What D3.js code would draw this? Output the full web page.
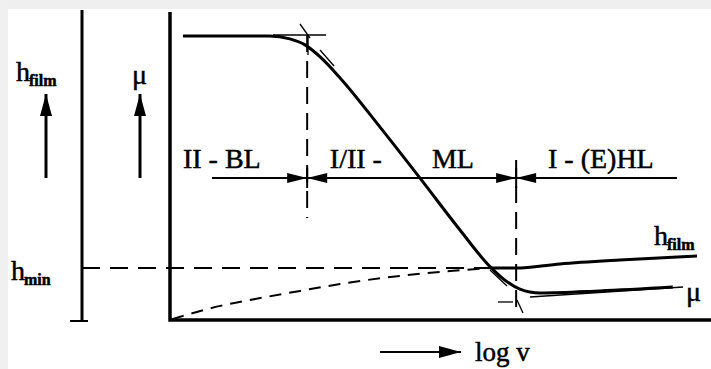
<!DOCTYPE html>
<meta charset="utf-8">
<script src="https://d3js.org/d3.v7.min.js"></script>
<style>
  body { margin: 0; background: #fff; }
  svg text { font-family: 'Liberation Serif', 'Times New Roman', serif; fill: #000; stroke: #000; stroke-width: 0.5px; }
</style>
<div id="chart"></div>
<script>

// ---- data ----
// friction coefficient mu vs log v (arbitrary units)
var muLogV = [0.24, 1.85, 2.22, 2.5, 2.78, 3.15, 3.89, 4.63, 5.37, 5.93, 6.2, 6.48, 6.85, 7.96, 9.31];
var muVals = [9.47, 9.47, 9.37, 9.17, 8.77, 8.07, 6.43, 4.73, 3.0, 1.77, 1.33, 1.03, 0.9, 0.97, 1.1];

// film thickness, below h_min (dashed) and above it (solid)
var hDashLogV = [0.04, 0.31, 0.93, 1.67, 2.41, 3.15, 4.26, 5.19, 5.93];
var hDashVals = [0.03, 0.17, 0.47, 0.73, 0.97, 1.2, 1.47, 1.63, 1.73];
var hSolidLogV = [5.93, 6.41, 7.22, 8.33, 9.76];
var hSolidVals = [1.73, 1.73, 1.87, 2.0, 2.13];

var hMin = 1.73;

// regime borders and labels
var borders = [2.54, 6.41];
var zoneNames = ["II - BL", "I/II -", "ML", "I - (E)HL"];
var zoneLabelX = [0.24, 2.96, 4.85, 7.0];

// ---- layout ----
var W = 711, H = 369;
var x = d3.scaleLinear().domain([0, 10]).range([170, 710]);
var y = d3.scaleLinear().domain([0, 10]).range([320, 20]);
var hAxisX = 82, zoneY = 178;

var svg = d3.select("#chart").append("svg")
  .attr("width", W).attr("height", H);

// faint grey smear at the top/left edge of the scan
svg.append("rect").attr("x", 0).attr("y", 0).attr("width", W).attr("height", 9).attr("fill", "#efefef");
svg.append("rect").attr("x", 0).attr("y", 0).attr("width", 8).attr("height", H).attr("fill", "#f0f0f0");

function arrow(x1, y1, x2, y2, len, half, sw) {
  svg.append("line")
    .attr("x1", x1).attr("y1", y1).attr("x2", x2).attr("y2", y2)
    .attr("stroke", "#000").attr("stroke-width", sw);
  var a = Math.atan2(y2 - y1, x2 - x1);
  var bx = x2 - len * Math.cos(a), by = y2 - len * Math.sin(a);
  var px = -Math.sin(a) * half, py = Math.cos(a) * half;
  svg.append("path")
    .attr("d", "M" + x2 + "," + y2 + "L" + (bx + px) + "," + (by + py) + "L" + (bx - px) + "," + (by - py) + "Z")
    .attr("fill", "#000");
}

// ---- axes ----
// h axis (left) with small foot
svg.append("line").attr("x1", hAxisX).attr("x2", hAxisX).attr("y1", 10).attr("y2", 322)
  .attr("stroke", "#000").attr("stroke-width", 3);
svg.append("line").attr("x1", 70).attr("x2", 88).attr("y1", 321).attr("y2", 321)
  .attr("stroke", "#000").attr("stroke-width", 2);

// mu axis + log v axis
svg.append("path")
  .attr("d", "M" + x(0) + ",12 L" + x(0) + "," + y(0) + " L" + W + "," + y(0))
  .attr("fill", "none").attr("stroke", "#000").attr("stroke-width", 3.5);

// ---- h_min dashed line ----
svg.append("line")
  .attr("x1", hAxisX).attr("x2", x(5.93))
  .attr("y1", y(hMin)).attr("y2", y(hMin))
  .attr("stroke", "#000").attr("stroke-width", 2).attr("stroke-dasharray", "18,10");

// ---- regime borders (dashed verticals) ----
var borderTop = [35, 160], borderBot = [218, 315];
borders.forEach(function(b, i) {
  svg.append("line")
    .attr("x1", x(b)).attr("x2", x(b))
    .attr("y1", borderTop[i]).attr("y2", borderBot[i])
    .attr("stroke", "#000").attr("stroke-width", 2).attr("stroke-dasharray", "17,9");
});

// ---- zone line with arrows ----
svg.append("line").attr("x1", 212).attr("x2", 677).attr("y1", zoneY).attr("y2", zoneY)
  .attr("stroke", "#000").attr("stroke-width", 2);
borders.forEach(function(b) {
  var bx = x(b);
  arrow(bx - 22, zoneY, bx, zoneY, 20, 5, 2);
  arrow(bx + 22, zoneY, bx, zoneY, 20, 5, 2);
  svg.append("line").attr("x1", bx).attr("x2", bx).attr("y1", zoneY - 10).attr("y2", zoneY + 10)
    .attr("stroke", "#000").attr("stroke-width", 2);
});

svg.selectAll(".zone")
  .data(zoneNames)
  .enter().append("text")
    .attr("class", "zone")
    .attr("x", function(d, i) { return x(zoneLabelX[i]); })
    .attr("y", 168)
    .style("font-size", "28px")
    .text(function(d) { return d; });

// ---- curves ----
var line = d3.line()
  .x(function(d) { return x(d[0]); })
  .y(function(d) { return y(d[1]); })
  .curve(d3.curveMonotoneX);

svg.append("path")
  .datum(d3.zip(hDashLogV, hDashVals))
  .attr("d", line)
  .attr("fill", "none").attr("stroke", "#000").attr("stroke-width", 2).attr("stroke-dasharray", "12,8");

svg.append("path")
  .datum(d3.zip(hSolidLogV, hSolidVals))
  .attr("d", line)
  .attr("fill", "none").attr("stroke", "#000").attr("stroke-width", 3);

svg.append("path")
  .datum(d3.zip(muLogV, muVals))
  .attr("d", line)
  .attr("fill", "none").attr("stroke", "#000").attr("stroke-width", 3);

// thin construction lines (tangents at the regime borders)
var constr = [
  [273, 35, 326, 35], [300, 24, 310, 38], [308, 35, 308, 55], [320, 50, 334, 66],
  [490, 270, 507, 286], [498, 302, 513, 302], [517, 300, 523, 313], [530, 297, 683, 287]
];
svg.selectAll(".constr")
  .data(constr)
  .enter().append("line")
    .attr("x1", function(d) { return d[0]; }).attr("y1", function(d) { return d[1]; })
    .attr("x2", function(d) { return d[2]; }).attr("y2", function(d) { return d[3]; })
    .attr("stroke", "#000").attr("stroke-width", 1.3);

// ---- labels ----
function subLabel(px, py, main, sub, fs, ss) {
  var t = svg.append("text").attr("x", px).attr("y", py).style("font-size", fs + "px");
  t.append("tspan").text(main);
  t.append("tspan").attr("dy", 5).attr("dx", -1).style("font-size", ss + "px").style("font-weight", "bold").text(sub);
}
subLabel(16, 81, "h", "film", 28, 16);
subLabel(11, 280, "h", "min", 28, 16);
subLabel(654, 245, "h", "film", 28, 16);

svg.append("text").attr("x", 132).attr("y", 84).style("font-size", "28px").text("\u03bc");
svg.append("text").attr("x", 686).attr("y", 301).style("font-size", "28px").text("\u03bc");

// up arrows on the left
arrow(46, 178, 46, 94, 22, 6, 3);
arrow(140, 178, 140, 94, 22, 6, 3);

// log v arrow
arrow(380, 352, 461, 352, 22, 6, 2);
svg.append("text").attr("x", 475).attr("y", 361).style("font-size", "27px").text("log v");

</script>
